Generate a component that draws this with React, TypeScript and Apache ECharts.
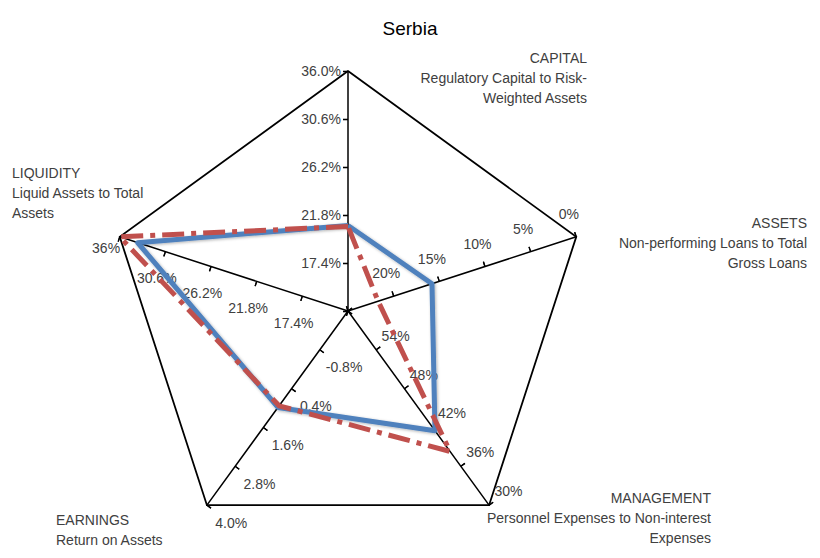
import React, { useEffect, useRef } from 'react';
import * as echarts from 'echarts';

const TITLE = 'Serbia';
// Indicators in ECharts order (counter-clockwise from top)
const INDICATORS = ['CAPITAL', 'LIQUIDITY', 'EARNINGS', 'MANAGEMENT', 'ASSETS'];
const SUBTITLES = [
  'Regulatory Capital to Risk-\nWeighted Assets',
  'Liquid Assets to Total\nAssets',
  'Return on Assets',
  'Personnel Expenses to Non-interest\nExpenses',
  'Non-performing Loans to Total\nGross Loans',
];
// value at the centre and at the outer vertex of each axis
const CENTER_VALUES = [13, 13, -2, 60, 25];
const OUTER_VALUES = [36, 36, 4, 30, 0];
const TICK_LABELS = [
  ['17.4%', '21.8%', '26.2%', '30.6%', '36.0%'],
  ['17.4%', '21.8%', '26.2%', '30.6%', '36%'],
  ['-0.8%', '0.4%', '1.6%', '2.8%', '4.0%'],
  ['54%', '48%', '42%', '36%', '30%'],
  ['20%', '15%', '10%', '5%', '0%'],
];
const SERIES_BLUE = [21.2, 34.2, 0.98, 41.5, 15.8];
const SERIES_RED = [21.1, 36.0, 0.93, 38.3, 21.7];

const FONT = '"Liberation Sans", Arial, sans-serif';
const TEXT_COLOR = '#404040';

const normalize = (vals: number[]) =>
  vals.map((v, i) => ((v - CENTER_VALUES[i]) / (OUTER_VALUES[i] - CENTER_VALUES[i])) * 5);

export default function App() {
  const ref = useRef<HTMLDivElement>(null);
  useEffect(() => {
    if (!ref.current) return;
    const chart = echarts.init(ref.current, undefined, { renderer: 'svg' });
    const labelLayout: any[] = [
      { margin: 7 },
      { margin: 28, align: 'center', verticalAlign: 'middle', rich: { v: { padding: [0, 10, 30, 0], color: TEXT_COLOR, fontFamily: FONT, fontSize: 14 } } },
      { margin: 30, align: 'center', verticalAlign: 'middle' },
      { margin: 24, align: 'center', verticalAlign: 'middle' },
      { margin: 24, align: 'center', verticalAlign: 'middle' },
    ];
    const indicatorMain = INDICATORS.map((name, i) => ({
      name,
      min: 0,
      max: 5,
      axisLabel: {
        ...labelLayout[i],
        formatter: (v: number) => {
          const k = Math.round(v);
          if (k < 1 || k > 5) return '';
          const t = TICK_LABELS[i][k - 1];
          return i === 1 && k === 5 ? '{v|' + t + '}' : t;
        },
      },
    }));
    const indicatorTicks = INDICATORS.map((name) => ({ name, min: 0, max: 5 }));
    const center = [348, 311];
    const radius = 240;
    const blockPos = [
      { x: 587, y: 78, align: 'right' },
      { x: 12, y: 193, align: 'left' },
      { x: 56, y: 530, align: 'left' },
      { x: 711, y: 518, align: 'right' },
      { x: 807, y: 243, align: 'right' },
    ];
    const option: any = {
      animation: false,
      backgroundColor: '#ffffff',
      title: {
        text: TITLE,
        left: 'center',
        top: 14,
        textStyle: { fontFamily: FONT, fontSize: 19, fontWeight: 'normal', color: '#000' },
      },
      radar: [
        {
          center,
          radius,
          shape: 'polygon',
          startAngle: 90,
          splitNumber: 5,
          indicator: indicatorMain,
          axisName: { show: false },
          axisLine: { lineStyle: { color: '#000', width: 1.5 } },
          axisTick: { show: true, length: 5, lineStyle: { color: '#000', width: 1.3 } },
          axisLabel: { show: true, color: TEXT_COLOR, fontFamily: FONT, fontSize: 14 },
          splitLine: {
            lineStyle: { color: ['transparent', 'transparent', 'transparent', 'transparent', 'transparent', '#000'], width: 1.8 },
          },
          splitArea: { show: false },
        },
        {
          center,
          radius,
          shape: 'polygon',
          startAngle: 90,
          splitNumber: 5,
          indicator: indicatorTicks,
          axisName: { show: false },
          axisLine: { show: false },
          axisTick: { show: true, inside: true, length: 5, lineStyle: { color: '#000', width: 1.3 } },
          axisLabel: { show: false },
          splitLine: { show: false },
          splitArea: { show: false },
        },
      ],
      series: [
        {
          type: 'radar',
          radarIndex: 0,
          symbol: 'none',
          lineStyle: {
            color: '#4F81BD',
            width: 5,
            shadowColor: 'rgba(0,0,0,0.3)',
            shadowBlur: 3,
            shadowOffsetX: 1,
            shadowOffsetY: 1,
          },
          data: [{ value: normalize(SERIES_BLUE), name: 'Serbia' }],
        },
        {
          type: 'radar',
          radarIndex: 0,
          symbol: 'none',
          lineStyle: {
            color: '#C0504D',
            width: 5,
            type: [22, 7, 5, 7],
          },
          data: [{ value: normalize(SERIES_RED), name: 'Benchmark' }],
        },
      ],
      graphic: INDICATORS.map((name, i) => ({
        type: 'text',
        x: blockPos[i].x,
        y: blockPos[i].y,
        style: {
          text: name + '\n' + SUBTITLES[i],
          textAlign: blockPos[i].align,
          textVerticalAlign: 'middle',
          fontFamily: FONT,
          fontSize: 14,
          lineHeight: 20,
          fill: TEXT_COLOR,
        },
      })),
    };
    chart.setOption(option);
    return () => chart.dispose();
  }, []);
  return (
    <div
      ref={ref}
      style={{ position: 'fixed', left: 0, top: 0, width: 820, height: 558, background: '#fff' }}
    />
  );
}
